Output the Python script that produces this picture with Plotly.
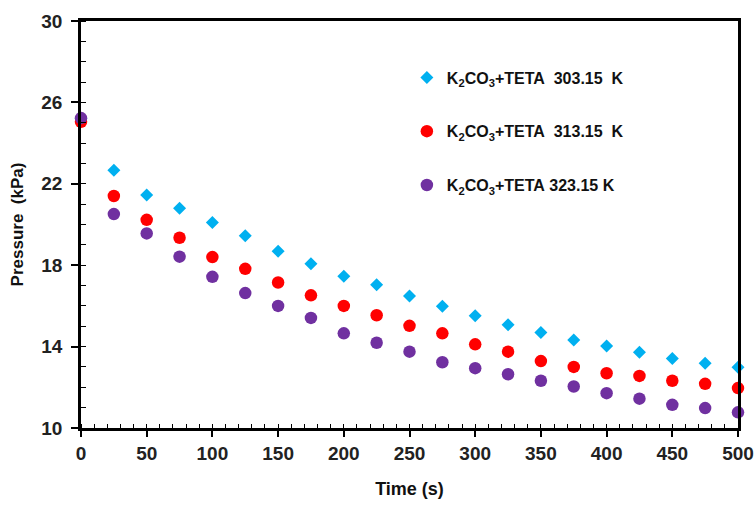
import plotly.graph_objects as go

# Time points (s)
time_s = [0, 25, 50, 75, 100, 125, 150, 175, 200, 225, 250, 275, 300,
          325, 350, 375, 400, 425, 450, 475, 500]

# Pressure (kPa) for K2CO3+TETA at three temperatures
p_303 = [25.20, 22.66, 21.45, 20.80, 20.10, 19.45, 18.69, 18.07, 17.46, 17.04,
         16.49, 15.98, 15.51, 15.07, 14.69, 14.32, 14.03, 13.72, 13.42, 13.18, 12.98]
p_313 = [25.05, 21.40, 20.23, 19.35, 18.40, 17.82, 17.15, 16.52, 16.00, 15.54,
         15.02, 14.65, 14.11, 13.75, 13.29, 13.00, 12.69, 12.56, 12.32, 12.17, 11.96]
p_323 = [25.23, 20.51, 19.56, 18.42, 17.43, 16.63, 16.00, 15.41, 14.65, 14.19,
         13.75, 13.23, 12.94, 12.64, 12.32, 12.04, 11.71, 11.44, 11.14, 10.98, 10.77]

series_names = [
    "K<sub>2</sub>CO<sub>3</sub>+TETA\u00a0\u00a0303.15\u00a0\u00a0K",
    "K<sub>2</sub>CO<sub>3</sub>+TETA\u00a0\u00a0313.15\u00a0\u00a0K",
    "K<sub>2</sub>CO<sub>3</sub>+TETA\u00a0323.15\u00a0K",
]
series_values = [p_303, p_313, p_323]
series_colors = ["#00B0F0", "#FF0000", "#7030A0"]
series_symbols = ["diamond", "circle", "circle"]
series_sizes = [10, 12.5, 12.5]

FONT = "Liberation Sans, Arial"

fig = go.Figure()
for i, (name, vals, col, sym, sz) in enumerate(
        zip(series_names, series_values, series_colors, series_symbols, series_sizes)):
    fig.add_trace(go.Scatter(
        x=time_s, y=vals, mode="markers", name=name,
        legendgroup=f"g{i}",
        marker=dict(color=col, symbol=sym, size=sz, line=dict(width=0)),
        cliponaxis=False,
    ))

fig.update_layout(
    width=756, height=505,
    margin=dict(l=81, r=18, t=21, b=77),
    paper_bgcolor="white", plot_bgcolor="white",
    font=dict(family=FONT, size=16, color="#222222"),
    showlegend=True,
    legend=dict(
        x=0.496, y=0.903, xanchor="left", yanchor="top",
        bgcolor="rgba(0,0,0,0)", borderwidth=0,
        font=dict(family=FONT, size=16, color="#111111", weight="bold"),
        tracegroupgap=30, itemsizing="trace",
    ),
    xaxis=dict(
        range=[0, 500], dtick=50, tick0=0,
        automargin=False,
        showgrid=False, zeroline=False,
        showline=True, linecolor="black", linewidth=2.5, mirror=True,
        ticks="outside", ticklen=6, tickwidth=1.5, tickcolor="black",
        minor=dict(ticks="inside", dtick=10, ticklen=4, tickwidth=1.2, tickcolor="black"),
        tickfont=dict(family=FONT, size=19, color="#222222", weight="bold"),
        title=dict(text="Time (s)", standoff=20,
                   font=dict(family=FONT, size=18, color="#111111", weight="bold")),
    ),
    yaxis=dict(
        range=[10, 30], dtick=4, tick0=10,
        automargin=False,
        showgrid=False, zeroline=False,
        showline=True, linecolor="black", linewidth=2.5, mirror=True,
        ticks="outside", ticklen=7, tickwidth=1.5, tickcolor="black",
        ticklabelstandoff=5,
        minor=dict(ticks="inside", dtick=1, ticklen=5, tickwidth=1.2, tickcolor="black"),
        tickfont=dict(family=FONT, size=19, color="#222222", weight="bold"),
        title=dict(text="Pressure\u00a0\u00a0(kPa)", standoff=14,
                   font=dict(family=FONT, size=17, color="#111111", weight="bold")),
    ),
)

fig.write_html("out.html")
